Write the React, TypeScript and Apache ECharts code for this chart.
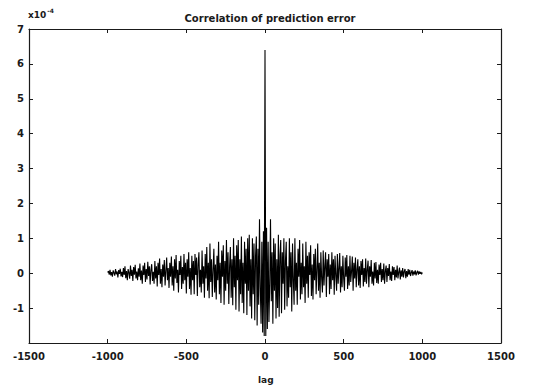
import React, { useEffect, useRef } from "react";
import * as echarts from "echarts";

// Values are in units of 1e-4, lag step 5
const LAG_STEP = 5;
// lags -1000 .. -5
const leftValues = [
  0.02, 0.06, -0.04, 0.1, -0.06, 0.03, -0.1, 0.08, 0.01, -0.07, 0.12, -0.03, 0.05, -0.12, 0.09, -0.02, 0.13, -0.09, 0.04, -0.11,
  0.15, -0.05, 0.2, -0.14, 0.06, -0.2, 0.12, 0.02, -0.16, 0.22, -0.08, 0.1, -0.22, 0.18, -0.04, 0.24, -0.15, 0.05, -0.2, 0.14,
  -0.1, 0.28, -0.2, 0.08, -0.3, 0.22, -0.05, 0.3, -0.25, 0.12, -0.18, 0.33, -0.08, 0.2, -0.32, 0.1, 0.26, -0.22, 0.04, -0.3,
  0.35, -0.15, 0.2, -0.38, 0.3, -0.05, 0.42, -0.3, 0.12, -0.4, 0.25, -0.1, 0.38, -0.35, 0.08, 0.45, -0.2, 0.15, -0.42, 0.3,
  -0.1, 0.48, -0.35, 0.2, -0.5, 0.4, -0.15, 0.52, -0.28, 0.1, -0.55, 0.35, -0.05, 0.5, -0.45, 0.18, -0.3, 0.55, -0.2, 0.3,
  -0.58, 0.4, -0.1, 0.6, -0.45, 0.15, -0.62, 0.5, -0.2, 0.35, -0.6, 0.55, -0.05, 0.45, -0.65, 0.25, 0.6, -0.4, 0.1, -0.55,
  0.65, -0.3, 0.2, -0.7, 0.55, -0.15, 0.75, -0.5, 0.3, -0.72, 0.85, -0.25, 0.4, -0.68, 0.1, 0.7, -0.55, 0.25, -0.75, 0.5,
  -0.2, 0.9, -0.6, 0.3, -0.85, 0.65, -0.1, 0.8, -0.9, 0.35, -0.5, 0.95, -0.3, 0.6, -0.88, 0.2, 0.75, -0.7, 0.4, -0.92,
  1.0, -0.4, 0.5, -1.05, 0.8, -0.2, 0.95, -1.1, 0.4, -0.6, 1.05, -0.85, 0.3, -1.15, 0.9, -0.3, 0.7, -1.2, 1.0, -0.5,
  1.1, -0.95, 0.4, -1.3, 1.0, -0.6, 0.85, -1.35, 0.5, 1.05, -1.5, 0.7, -0.9, 1.55, -0.4, -1.45, 0.9, -1.7, 1.2, -1.8,
];
const centerValue = 6.4;
// lags 5 .. 1000
const rightValues = [
  -1.8, 1.3, -1.6, 0.9, -1.4, -0.3, 1.55, -0.8, 0.6, -1.45, 1.0, -0.5, 0.85, -1.3, 0.4, -1.0, 1.1, -1.25, 0.5, 0.95,
  -1.15, 0.6, -0.3, 1.0, -1.05, 0.35, 0.9, -0.95, 0.2, -0.7, 1.0, -0.4, 0.6, -1.1, 0.85, -0.2, -0.9, 1.0, -0.5, 0.3,
  -0.9, 0.7, -0.1, 0.95, -0.75, 0.3, -0.6, 0.85, -0.4, 0.2, -0.85, 0.9, -0.3, 0.5, -0.7, 0.6, -0.05, 0.8, -0.65, 0.25,
  -0.75, 0.55, -0.2, 0.7, -0.6, 0.1, 0.85, -0.5, 0.3, -0.7, 0.6, -0.15, -0.55, 0.65, -0.35, 0.2, 0.6, -0.68, 0.4, -0.1,
  0.55, -0.6, 0.25, -0.45, 0.6, -0.2, 0.4, -0.62, 0.5, -0.05, -0.5, 0.55, -0.3, 0.15, 0.58, -0.55, 0.2, -0.4, 0.5, -0.15,
  -0.5, 0.45, -0.1, 0.52, -0.45, 0.2, -0.35, 0.5, -0.25, 0.05, 0.48, -0.5, 0.3, -0.15, 0.45, -0.4, 0.1, 0.4, -0.35, 0.2,
  -0.42, 0.35, -0.05, 0.4, -0.38, 0.15, -0.25, 0.42, -0.3, 0.1, 0.36, -0.4, 0.2, -0.1, 0.38, -0.3, 0.05, -0.35, 0.3, -0.15,
  0.32, -0.28, 0.1, -0.3, 0.25, -0.05, 0.3, -0.25, 0.12, -0.2, 0.28, -0.3, 0.06, 0.22, -0.25, 0.15, -0.08, 0.26, -0.2, 0.05,
  -0.22, 0.2, -0.05, 0.18, -0.2, 0.1, -0.12, 0.22, -0.15, 0.03, 0.16, -0.18, 0.08, -0.1, 0.15, -0.12, 0.05, 0.12, -0.14, 0.06,
  -0.1, 0.12, -0.04, 0.1, -0.08, 0.02, 0.09, -0.07, 0.05, -0.03, 0.08, -0.06, 0.02, 0.07, -0.04, 0.05, -0.02, 0.04, -0.03, 0.02,
];
const xTicks = [-1500, -1000, -500, 0, 500, 1000, 1500];
const yMin = -2;
const yMax = 7;

const FONT = "DejaVu Sans";
const INK = "#1a1a1a";

export default function App() {
  const ref = useRef<HTMLDivElement>(null);
  useEffect(() => {
    if (!ref.current) return;
    const chart = echarts.init(ref.current, undefined, { renderer: "svg" });
    const data: [number, number][] = [];
    leftValues.forEach((v, i) => data.push([-(leftValues.length - i) * LAG_STEP, v]));
    data.push([0, centerValue]);
    rightValues.forEach((v, i) => data.push([(i + 1) * LAG_STEP, v]));

    const axisCommon = {
      axisLine: { show: true, onZero: false, lineStyle: { color: INK, width: 1.2 } },
      axisTick: { show: true, inside: true, length: 4, lineStyle: { color: INK } },
      splitLine: { show: false },
    };
    chart.setOption({
      animation: false,
      backgroundColor: "#fff",
      title: {
        text: "Correlation of prediction error",
        left: 265,
        top: 8,
        textAlign: "center",
        textStyle: { fontFamily: FONT, fontSize: 10, fontWeight: "bold", color: INK },
      },
      graphic: [
        {
          type: "text",
          left: 28,
          top: 7,
          style: {
            text: "{b|x10}{s|-4}",
            rich: {
              b: { fontFamily: FONT, fontSize: 9, fontWeight: "bold", fill: INK, verticalAlign: "bottom" },
              s: { fontFamily: FONT, fontSize: 6, fontWeight: "bold", fill: INK, verticalAlign: "top", padding: [0, 0, 6, 1] },
            },
          },
        },
        {
          type: "text",
          left: 258,
          top: 375,
          style: { text: "lag", fontFamily: FONT, fontSize: 9, fontWeight: "bold", fill: INK },
        },
      ],
      grid: { left: 29, right: 36, top: 29, bottom: 47, containLabel: false },
      xAxis: [
        {
          type: "value",
          min: xTicks[0],
          max: xTicks[xTicks.length - 1],
          interval: 500,
          position: "bottom",
          ...axisCommon,
          axisLabel: {
            fontFamily: FONT,
            fontSize: 10,
            fontWeight: "bold",
            color: INK,
            margin: 8,
            formatter: (v: number) => String(v),
          },
        },
        {
          type: "value",
          min: xTicks[0],
          max: xTicks[xTicks.length - 1],
          interval: 500,
          position: "top",
          ...axisCommon,
          axisLabel: { show: false },
        },
      ],
      yAxis: [
        {
          type: "value",
          min: yMin,
          max: yMax,
          interval: 1,
          position: "left",
          ...axisCommon,
          axisLabel: {
            fontFamily: FONT,
            fontSize: 10,
            fontWeight: "bold",
            color: INK,
            margin: 5,
            formatter: (v: number) => (v === yMin ? "" : String(v)),
          },
        },
        {
          type: "value",
          min: yMin,
          max: yMax,
          interval: 1,
          position: "right",
          ...axisCommon,
          axisLabel: { show: false },
        },
      ],
      series: [
        {
          type: "line",
          data,
          xAxisIndex: 0,
          yAxisIndex: 0,
          showSymbol: false,
          symbol: "none",
          lineStyle: { color: "#000", width: 1.1 },
        },
      ],
    });
    return () => chart.dispose();
  }, []);
  return <div ref={ref} style={{ width: 537, height: 390, position: "absolute", left: 0, top: 0 }} />;
}
